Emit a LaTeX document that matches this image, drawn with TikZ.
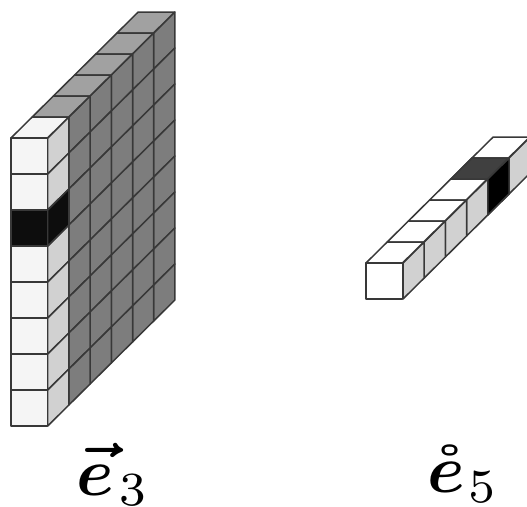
\documentclass[tikz,border=0pt]{standalone}
\usepackage{amsmath}
\usepackage{amssymb}
\definecolor{framegray}{gray}{0.22}
\definecolor{frontwhite}{gray}{0.96}
\definecolor{sidelight}{gray}{0.82}
\definecolor{sidedark}{gray}{0.49}
\definecolor{topdark}{gray}{0.63}
\definecolor{hotblack}{gray}{0.05}
\definecolor{hottop}{gray}{0.25}
\tikzset{
    cell/.style={draw=framegray, line width=1.5pt, line join=round},
    symb/.style={inner sep=0pt, scale=6.8, anchor=base west}
}
% one cube face each, corner given in pixels
\newcommand{\frontface}[3]{\path[cell, fill=#3] (#1,#2) rectangle ++(36.5,36);}
\newcommand{\sideface}[3]{\path[cell, fill=#3] (#1,#2) -- ++(21.2,-21) -- ++(0,36) -- ++(-21.2,21) -- cycle;}
\newcommand{\topface}[3]{\path[cell, fill=#3] (#1,#2) -- ++(21.2,-21) -- ++(36.5,0) -- ++(-21.2,21) -- cycle;}
\begin{document}
\begin{tikzpicture}[x=1pt, y=-1pt]
    \useasboundingbox (0,0) rectangle (527,506);
    \clip (0,0) rectangle (527,506);
    % big block: dark side first
    \foreach \d in {5,4,...,1}
        \foreach \r in {0,...,7}
            \sideface{47.7+21.2*\d}{138-21*\d+36*\r}{sidedark};
    % light column
    \foreach \r in {0,...,7}
        \sideface{47.7}{138+36*\r}{sidelight};
    \sideface{47.7}{210}{hotblack};
    % top row
    \foreach \d in {5,4,...,1}
        \topface{11+21.2*\d}{138-21*\d}{topdark};
    \topface{11}{138}{frontwhite};
    % front column
    \foreach \r in {0,...,7}
        \frontface{11}{138+36*\r}{frontwhite};
    \frontface{11}{210}{hotblack};
    % small bar
    \foreach \d in {5,4,...,0}
        \sideface{403+21.2*\d}{263-21*\d}{sidelight};
    \sideface{403+21.2*4}{263-21*4}{black};
    \foreach \d in {5,4,...,0}
        \topface{366+21.2*\d}{263-21*\d}{white};
    \topface{366+21.2*4}{263-21*4}{hottop};
    \frontface{366}{263}{white};
    % labels
    \node[symb] (e3) at (75,495) {\rlap{\kern0.2pt\raisebox{0.4pt}{\scalebox{1.1}[1]{$\boldsymbol{\vec{\phantom{e}}}$}}}$\boldsymbol{e}_{\mkern1.6mu 3}$};
    \node[symb] (e5) at (426,492) {$\boldsymbol{\mathring{e}}_{\mkern1mu 5}$};
\end{tikzpicture}
\end{document}
